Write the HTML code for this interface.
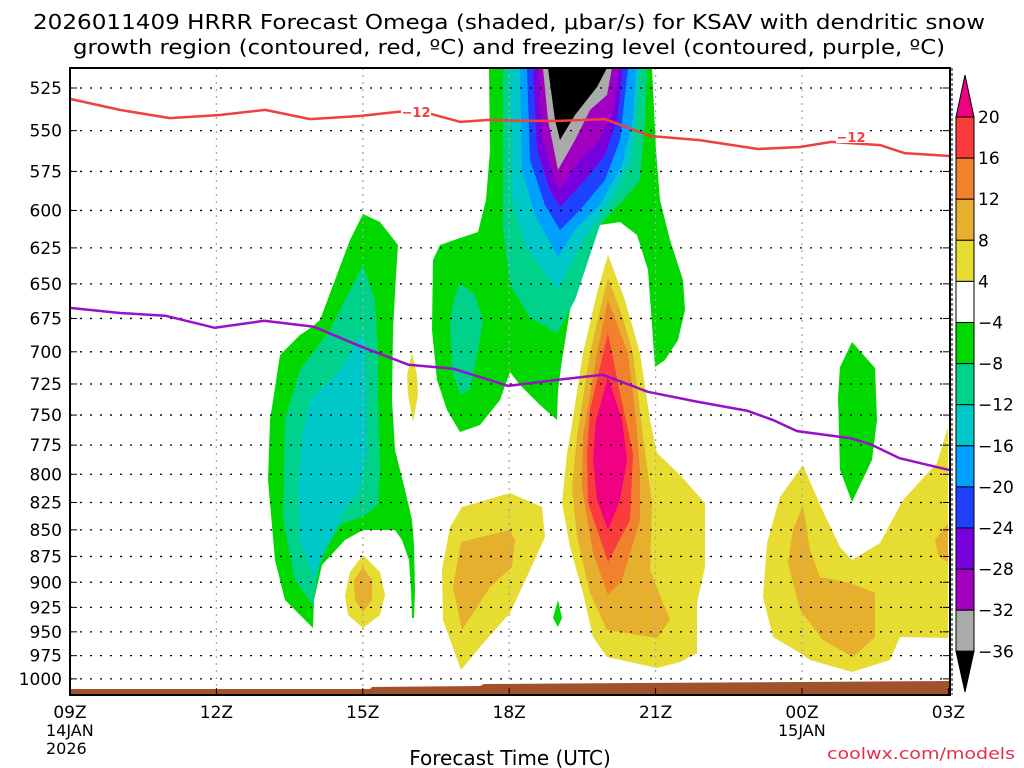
<!DOCTYPE html>
<html><head><meta charset="utf-8"><style>
body{margin:0;background:#fff;}
svg{display:block;font-family:"DejaVu Sans","Liberation Sans",sans-serif;}
</style></head><body>
<svg id="chart" width="1024" height="768" viewBox="0 0 1024 768">
<rect width="1024" height="768" fill="#fff"/>
<g font-size="20" text-anchor="middle" fill="#000">
<text x="509" y="29" textLength="952" lengthAdjust="spacingAndGlyphs">2026011409 HRRR Forecast Omega (shaded, μbar/s) for KSAV with dendritic snow</text>
<text x="509" y="54" textLength="872" lengthAdjust="spacingAndGlyphs">growth region (contoured, red, ºC) and freezing level (contoured, purple, ºC)</text>
</g>
<g id="shading" stroke="none">
<polygon fill="#00d800" points="363,214 380,222 398,245 396,275 393,330 392,400 395,450 405,490 412,520 414,545 415,590 414,618 412,618 411,590 409,560 402,540 395,530 363,530 345,540 322,565 314,600 313,628 300,615 285,600 275,560 268,480 270,420 280,355 300,335 312,327 320,320 335,280 350,240"/>
<polygon fill="#00d28c" points="363,265 375,300 378,350 378,400 380,470 378,505 365,515 340,525 320,560 313,605 295,580 283,520 285,420 300,370 330,330 345,300"/>
<polygon fill="#00c8c8" points="364,330 366,380 367,450 360,490 345,510 330,540 314,578 300,540 298,483 303,430 310,400 340,370"/>
<polygon fill="#e6dc32" points="363,555 380,572 385,595 380,615 363,628 348,615 345,595 350,572"/>
<polygon fill="#e6af2d" points="363,567 372,580 372,600 363,612 355,600 354,580"/>
<polygon fill="#e6dc32" points="412,353 417,375 418,395 413,422 408,395 407,375"/>
<polygon fill="#00d800" points="489,68 490,150 486,200 478,232 460,238 440,245 433,260 432,330 437,380 447,410 460,432 480,425 500,400 510,372 520,385 540,405 557,420 558,390 562,360 570,310 582,258 600,225 620,222 637,235 648,270 655,367 665,360 678,340 685,310 683,280 670,240 660,200 656,150 652,68"/>
<polygon fill="#00d28c" points="460,283 475,295 483,320 478,350 470,390 460,395 452,370 450,320 455,295"/>
<polygon fill="#00d28c" points="503,68 503,230 510,285 530,318 557,333 575,300 600,225 625,198 640,180 645,120 647,68"/>
<polygon fill="#00c8c8" points="510,68 512,200 525,245 558,290 583,240 610,203 632,160 640,68"/>
<polygon fill="#00a0ff" points="520,68 522,170 535,215 558,257 575,230 600,205 622,165 633,120 636,68"/>
<polygon fill="#2040ff" points="527,68 530,160 545,205 560,230 580,210 605,180 620,140 628,68"/>
<polygon fill="#7800dc" points="533,68 537,150 550,190 560,207 585,180 605,155 617,120 623,68"/>
<polygon fill="#a000c0" points="538,68 543,140 555,180 559,190 580,160 600,140 613,110 618,68"/>
<polygon fill="#aaaaaa" points="543,68 548,120 558,170 575,140 590,110 607,95 612,68"/>
<polygon fill="#000" points="548,68 555,120 560,140 575,115 597,87 607,68"/>
<polygon fill="#e6dc32" points="608,255 625,300 640,353 650,420 657,453 680,475 705,503 705,567 697,603 697,653 680,662 657,668 607,657 593,637 583,593 570,547 562,503 567,453 570,437 583,353 597,293"/>
<polygon fill="#e6af2d" points="608,278 622,315 633,353 643,437 652,503 650,570 670,620 657,638 607,630 590,593 577,537 572,487 577,437 590,353 600,310"/>
<polygon fill="#f0822d" points="608,300 628,353 636,420 640,470 640,520 622,580 608,595 593,553 582,487 583,437 597,353"/>
<polygon fill="#fa3c3c" points="608,333 620,393 633,453 630,520 608,562 588,503 587,453 590,410"/>
<polygon fill="#f00082" points="608,377 622,420 627,460 620,500 608,530 597,500 593,460 596,420"/>
<polygon fill="#e6dc32" points="462,507 510,493 542,507 545,537 530,570 510,613 480,647 461,670 443,620 442,570 450,527"/>
<polygon fill="#e6af2d" points="461,542 510,530 515,540 512,567 490,587 462,630 453,587"/>
<polygon fill="#00d800" points="558,600 562,618 558,627 553,618"/>
<polygon fill="#e6dc32" points="803,465 820,505 840,547 852,560 880,543 903,500 937,463 948,427 948,638 900,637 890,660 852,672 810,660 800,653 773,637 763,597 767,543 780,497"/>
<polygon fill="#e6af2d" points="803,505 810,550 820,577 850,583 875,593 875,637 853,657 823,640 800,610 788,563 793,530"/>
<polygon fill="#e6af2d" points="948,523 948,563 938,555 935,540"/>
<polygon fill="#00d800" points="852,342 875,368 877,420 872,460 852,502 840,470 838,397 840,367"/>
</g>
<g id="grid"></g>
<polygon fill="#a0522d" points="70,689 370,689 372,687 480,686 484,684 950,681 950,695 70,695"/>
<g id="lines"></g>
<g id="axes"></g>
<rect x="70" y="68" width="880" height="627" fill="none" stroke="#000" stroke-width="2"/>
<line x1="952" y1="68" x2="952" y2="695" stroke="#000" stroke-dasharray="3,2" stroke-width="1"/>
<g id="cbar"></g>
<text x="510" y="765" font-size="20" text-anchor="middle">Forecast Time (UTC)</text>
<text x="1015" y="759" font-size="16" text-anchor="end" fill="#e0304a" textLength="188" lengthAdjust="spacingAndGlyphs">coolwx.com/models</text>
</svg>
<script>
const NS='http://www.w3.org/2000/svg';
const pLevels=[525,550,575,600,625,650,675,700,725,750,775,800,825,850,875,900,925,950,975,1000];
const xTicks=['09Z','12Z','15Z','18Z','21Z','00Z','03Z'];
const xTickHours=[0,3,6,9,12,15,18];
const dgzHours=[0,1.02,2.05,3.07,4,4.92,5.94,6.76,7.38,8,8.6,9.43,10.04,10.96,11.89,12.9,14.1,14.96,15.6,16.6,17.1,18.03];
const dgzP=[531.3,537.7,542.5,540.7,537.7,543.1,541.3,538.7,539.9,544.8,543.6,544.2,544.2,543.1,553.2,555.7,561.1,559.9,556.8,558.7,563.6,565.4];
const fzHours=[0,1.02,1.95,2.97,3.98,5.0,6.02,6.94,7.86,8.98,10.0,10.92,11.84,12.87,13.89,14.4,14.9,15.98,16.4,17.0,18.03];
const fzP=[667.3,671,673,681.9,676.7,681.2,696.9,710,713.1,726.5,721.7,717.8,731.2,739.3,746.6,754,763.2,769.1,774.1,786.1,796.5];
const cbLevels=[20,16,12,8,4,-4,-8,-12,-16,-20,-24,-28,-32,-36];
const cbColors=['#fa3c3c','#f0822d','#e6af2d','#e6dc32','#ffffff','#00d800','#00d28c','#00c8c8','#00a0ff','#2040ff','#7800dc','#a000c0','#aaaaaa'];
function xs(h){return 70+h*48.8;}
function ys(p){return 88+917*Math.log(p/525);}
function mk(t,a,parent){const e=document.createElementNS(NS,t);for(const k in a)e.setAttribute(k,a[k]);parent.appendChild(e);return e;}
const grid=document.getElementById('grid'),axes=document.getElementById('axes'),lines=document.getElementById('lines'),cbar=document.getElementById('cbar');
pLevels.forEach(p=>{const y=ys(p);
 const g=mk('line',{x1:70,x2:950,y1:y,y2:y,stroke:'#000','stroke-dasharray':'2,8','stroke-width':1.3},grid);
 
 
 mk('line',{x1:70,x2:77,y1:y,y2:y,stroke:'#000'},axes);
 mk('line',{x1:943,x2:950,y1:y,y2:y,stroke:'#000'},axes);
 const t=mk('text',{x:62,y:y+6,'font-size':17,'text-anchor':'end'},axes);t.textContent=p;
 
 
});
xTicks.forEach((lab,i)=>{const x=xs(xTickHours[i]);
 if(i>0&&i<xTicks.length-1){const g=mk('line',{x1:x,x2:x,y1:68,y2:695,stroke:'#aaa','stroke-dasharray':'2,5','stroke-width':1.3},grid);
 
 }
 mk('line',{x1:x,x2:x,y1:688,y2:695,stroke:'#000'},axes);
 const t=mk('text',{x:x,y:718,'font-size':17,'text-anchor':'middle'},axes);t.textContent=lab;
 
 
});
[['14JAN',46,736],['2026',46,754],['15JAN',778,736]].forEach(d=>{const t=mk('text',{x:d[1],y:d[2],'font-size':16},axes);t.textContent=d[0];
 
 });
function poly(hs,ps,color,name){const pts=hs.map((h,i)=>xs(h).toFixed(1)+','+ys(ps[i]).toFixed(1)).join(' ');
 const l=mk('polyline',{points:pts,fill:'none',stroke:color,'stroke-width':2.5,'stroke-linejoin':'round'},lines);
 
 }
poly(dgzHours,dgzP,'#f04040','dgz-minus12-contour');
poly(fzHours,fzP,'#9a10c8','freezing-level-contour');
[[416,112],[851,137]].forEach(d=>{mk('rect',{x:d[0]-15,y:d[1]-7,width:30,height:13,fill:'#fff'},lines);
 const t=mk('text',{x:d[0],y:d[1]+5,'font-size':13,'font-weight':'bold','text-anchor':'middle',fill:'#f04040'},lines);t.textContent='−12';
 
 });
const cbTop=117,cbStep=41.1,cx=956,cw=18;
mk('polygon',{points:`${cx},${cbTop} ${cx+cw},${cbTop} ${cx+cw/2},75`,fill:'#f00082',stroke:'#000'},cbar);
cbColors.forEach((c,i)=>{const r=mk('rect',{x:cx,y:cbTop+i*cbStep,width:cw,height:cbStep,fill:c,stroke:'#000'},cbar);
 
 });
const cbBot=cbTop+cbColors.length*cbStep;
mk('polygon',{points:`${cx},${cbBot} ${cx+cw},${cbBot} ${cx+cw/2},692`,fill:'#000',stroke:'#000'},cbar);
cbLevels.forEach((v,i)=>{const t=mk('text',{x:978,y:cbTop+i*cbStep+6,'font-size':17},cbar);t.textContent=v<0?'−'+(-v):v;
 
 });
</script>
</body></html>
